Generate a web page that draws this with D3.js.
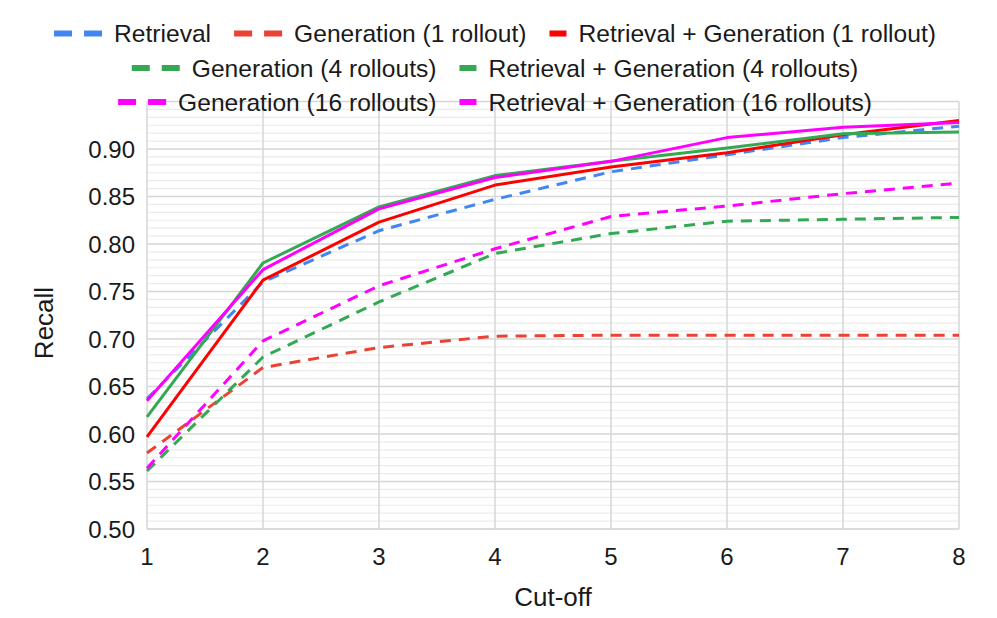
<!DOCTYPE html>
<html><head><meta charset="utf-8">
<script src="https://cdn.jsdelivr.net/npm/d3@7"></script>
<style>html,body{margin:0;padding:0;background:#fff;}svg{display:block;font-family:"Liberation Sans",Arial,sans-serif;}</style>
</head><body>
<svg id="chart" width="997" height="618"></svg>
<script>
const cutoffs = [1, 2, 3, 4, 5, 6, 7, 8];
const retrieval = [0.637, 0.760, 0.814, 0.847, 0.876, 0.894, 0.912, 0.924];
const gen1 = [0.580, 0.670, 0.691, 0.703, 0.704, 0.704, 0.704, 0.704];
const retGen1 = [0.597, 0.762, 0.823, 0.862, 0.881, 0.896, 0.915, 0.930];
const gen4 = [0.561, 0.681, 0.739, 0.790, 0.811, 0.824, 0.826, 0.828];
const retGen4 = [0.618, 0.780, 0.839, 0.872, 0.887, 0.901, 0.916, 0.918];
const gen16 = [0.564, 0.698, 0.756, 0.795, 0.829, 0.840, 0.853, 0.864];
const retGen16 = [0.635, 0.773, 0.837, 0.870, 0.887, 0.912, 0.923, 0.928];
const yTicks = [0.50, 0.55, 0.60, 0.65, 0.70, 0.75, 0.80, 0.85, 0.90];
const seriesNames = ["Retrieval", "Generation (1 rollout)", "Retrieval + Generation (1 rollout)",
  "Generation (4 rollouts)", "Retrieval + Generation (4 rollouts)",
  "Generation (16 rollouts)", "Retrieval + Generation (16 rollouts)"];
const seriesValues = [retrieval, gen1, retGen1, gen4, retGen4, gen16, retGen16];
const seriesColors = ["#4285F4", "#EA4335", "#FF0000", "#34A853", "#34A853", "#FF00FF", "#FF00FF"];
const seriesDashed = [true, true, false, true, false, true, false];
const legendRows = [[0, 1, 2], [3, 4], [5, 6]];

(function () {
const svg = d3.select("#chart");
const pLeft = 147, pRight = 959, pTop = 101.5, pBottom = 529;
const x = d3.scaleLinear().domain([1, 8]).range([pLeft, pRight]);
const y = d3.scaleLinear().domain([0.5, 0.95]).range([pBottom, pTop]);

// minor gridlines
const minor = [];
for (let i = 0; i < 9; i++) for (let k = 1; k < 6; k++) minor.push(0.5 + i * 0.05 + k * 0.05 / 6);
const g = svg.append("g");
g.append("g").selectAll("line").data(minor).join("line")
  .attr("x1", pLeft).attr("x2", pRight).attr("y1", d => y(d)).attr("y2", d => y(d))
  .attr("stroke", "#ebebeb").attr("stroke-width", 1.2);
g.append("g").selectAll("line").data(yTicks.concat([0.95])).join("line")
  .attr("x1", pLeft).attr("x2", pRight).attr("y1", d => y(d)).attr("y2", d => y(d))
  .attr("stroke", d => d === 0.5 ? "#cfcfcf" : "#d6d6d6").attr("stroke-width", 1.5);
g.append("g").selectAll("line").data(cutoffs).join("line")
  .attr("x1", d => x(d)).attr("x2", d => x(d)).attr("y1", pTop).attr("y2", pBottom)
  .attr("stroke", "#d6d6d6").attr("stroke-width", 1.5);

// axes labels
const textColor = "#1a1a1a";
svg.append("g").selectAll("text").data(yTicks).join("text")
  .attr("x", 135).attr("y", d => y(d) + 8.6).attr("text-anchor", "end")
  .attr("font-size", 24).attr("fill", textColor).text(d => d.toFixed(2));
svg.append("g").selectAll("text").data(cutoffs).join("text")
  .attr("x", d => x(d)).attr("y", 565).attr("text-anchor", "middle")
  .attr("font-size", 24).attr("fill", textColor).text(d => d);
svg.append("text").attr("x", (pLeft + pRight) / 2).attr("y", 606).attr("text-anchor", "middle")
  .attr("font-size", 26).attr("fill", textColor).text("Cut-off");
svg.append("text").attr("transform", "translate(52.5,323) rotate(-90)").attr("text-anchor", "middle")
  .attr("font-size", 26).attr("fill", textColor).text("Recall");

// lines
const line = d3.line().x((d, i) => x(cutoffs[i])).y(d => y(d));
seriesValues.forEach((vals, s) => {
  svg.append("path").datum(vals).attr("d", line).attr("fill", "none")
    .attr("stroke", seriesColors[s]).attr("stroke-width", 3)
    .attr("stroke-dasharray", seriesDashed[s] ? "11,8" : null)
    .attr("stroke-linejoin", "round");
});

// legend
const rowY = [33.5, 68, 102];
const centerX = 495;
legendRows.forEach((row, r) => {
  const lg = svg.append("g");
  let cx = 0;
  row.forEach((s, j) => {
    if (j > 0) cx += 23;
    const item = lg.append("g").attr("transform", `translate(${cx},0)`);
    let w;
    if (seriesDashed[s]) {
      item.append("rect").attr("x", 0).attr("y", rowY[r] - 3).attr("width", 18).attr("height", 6).attr("fill", seriesColors[s]);
      item.append("rect").attr("x", 30).attr("y", rowY[r] - 3).attr("width", 18).attr("height", 6).attr("fill", seriesColors[s]);
      w = 48;
    } else {
      item.append("rect").attr("x", 0).attr("y", rowY[r] - 3).attr("width", 17).attr("height", 6).attr("fill", seriesColors[s]);
      w = 17;
    }
    const t = item.append("text").attr("x", w + 12).attr("y", rowY[r] + 8.8)
      .attr("font-size", 24.6).attr("fill", textColor).text(seriesNames[s]);
    cx += w + 12 + t.node().getComputedTextLength();
  });
  lg.attr("transform", `translate(${centerX - cx / 2},0)`);
});
})();
</script>
</body></html>
